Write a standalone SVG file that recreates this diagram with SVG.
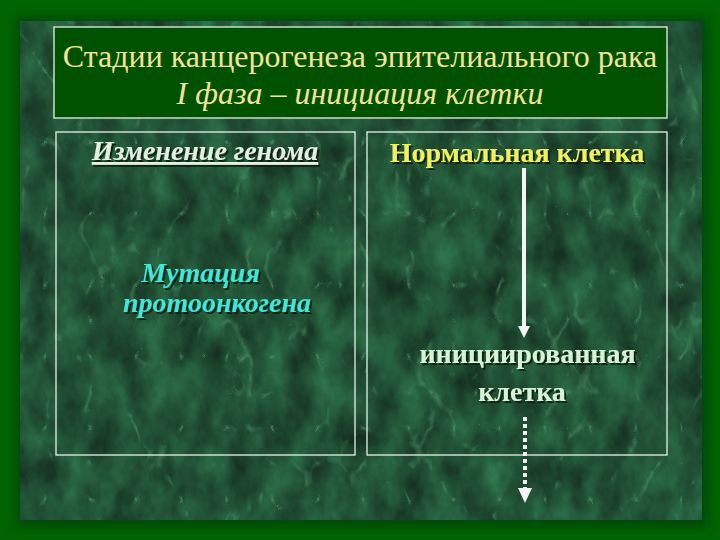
<svg xmlns="http://www.w3.org/2000/svg" width="720" height="540" viewBox="0 0 720 540">
  <defs>
    <filter id="marble" x="0" y="0" width="100%" height="100%" color-interpolation-filters="sRGB">
      <feTurbulence type="fractalNoise" baseFrequency="0.035 0.022" numOctaves="5" seed="7" result="n"/>
      <feColorMatrix in="n" type="matrix" values="0.14 0 0 0 0.06  0.38 0 0 0 0.13  0.24 0 0 0 0.09  0 0 0 0 1"/>
    </filter>
    <filter id="veins" x="0" y="0" width="100%" height="100%" color-interpolation-filters="sRGB">
      <feTurbulence type="turbulence" baseFrequency="0.022 0.014" numOctaves="3" seed="3" result="t"/>
      <feColorMatrix in="t" type="matrix" values="0 0 0 0 0.32  0 0 0 0 0.6  0 0 0 0 0.43  -9 0 0 0 1.0"/>
    </filter>
    <filter id="shadow" x="-10%" y="-10%" width="120%" height="130%">
      <feDropShadow dx="2" dy="2" stdDeviation="0.6" flood-color="#0a1a0a" flood-opacity="0.9"/>
    </filter>
    <filter id="blur" x="-5%" y="-5%" width="110%" height="110%">
      <feGaussianBlur stdDeviation="6"/>
    </filter>
  </defs>
  <style>
    .box { fill: none; stroke: #e8f0e8; stroke-width: 1.3; }
    .title { fill: #f3e39a; font-size: 32px; }
    .lbl { font-size: 28px; font-weight: bold; }
    .conn { stroke: #f4f4f4; fill: none; stroke-width: 4; }
  </style>

  <!-- background -->
  <rect x="0" y="0" width="720" height="540" fill="#006400"/>
  <rect x="16" y="17" width="692" height="510" fill="#003a0a" opacity="0.7" filter="url(#blur)"/>
  <rect x="20" y="21" width="682" height="499" fill="#1b4a2e"/>
  <rect x="20" y="21" width="682" height="499" filter="url(#marble)"/>
  <rect x="20" y="21" width="682" height="499" filter="url(#veins)" opacity="0.55"/>

  <g id="title" font-family="'Liberation Serif', 'DejaVu Serif', serif">
    <rect x="54" y="27" width="613" height="91" fill="#005200" stroke="#e8f0e8" stroke-width="1.3"/>
    <text class="title" x="360" y="67" text-anchor="middle">Стадии канцерогенеза эпителиального рака</text>
    <text class="title" x="360" y="104" text-anchor="middle" font-style="italic">I фаза – инициация клетки</text>
  </g>

  <g id="left-panel" font-family="'Liberation Serif', 'DejaVu Serif', serif">
    <rect class="box" x="56" y="132" width="299" height="323"/>
    <text class="lbl" x="205" y="160" text-anchor="middle" font-style="italic" fill="#e4efe0" text-decoration="underline" filter="url(#shadow)">Изменение генома</text>
  </g>

  <g id="mutation" font-family="'Liberation Serif', 'DejaVu Serif', serif">
    <text class="lbl" font-style="italic" fill="#3fe6d8" filter="url(#shadow)" text-anchor="middle">
      <tspan x="204" y="282">Мутация</tspan>
      <tspan x="217" y="312">протоонкогена</tspan>
    </text>
  </g>

  <g id="right-panel">
    <rect class="box" x="367" y="132" width="300" height="323"/>
  </g>

  <g id="normal-cell" font-family="'Liberation Serif', 'DejaVu Serif', serif">
    <text class="lbl" x="517" y="162" text-anchor="middle" fill="#f0f060" filter="url(#shadow)">Нормальная клетка</text>
  </g>

  <g id="initiated-cell" font-family="'Liberation Serif', 'DejaVu Serif', serif">
    <text class="lbl" fill="#d6f3d6" filter="url(#shadow)" text-anchor="middle">
      <tspan x="531" y="363">инициированная</tspan>
      <tspan x="522" y="401">клетка</tspan>
    </text>
  </g>

  <g id="connectors">
    <line class="conn" x1="524" y1="168" x2="524" y2="328"/>
    <path d="M518,326 L530,326 L524,338 Z" fill="#f4f4f4"/>
    <line class="conn" x1="525" y1="417" x2="525" y2="488" stroke-width="5" stroke-dasharray="4 3"/>
    <path d="M518,488 L532,488 L525,503 Z" fill="#f4f4f4"/>
  </g>
</svg>
